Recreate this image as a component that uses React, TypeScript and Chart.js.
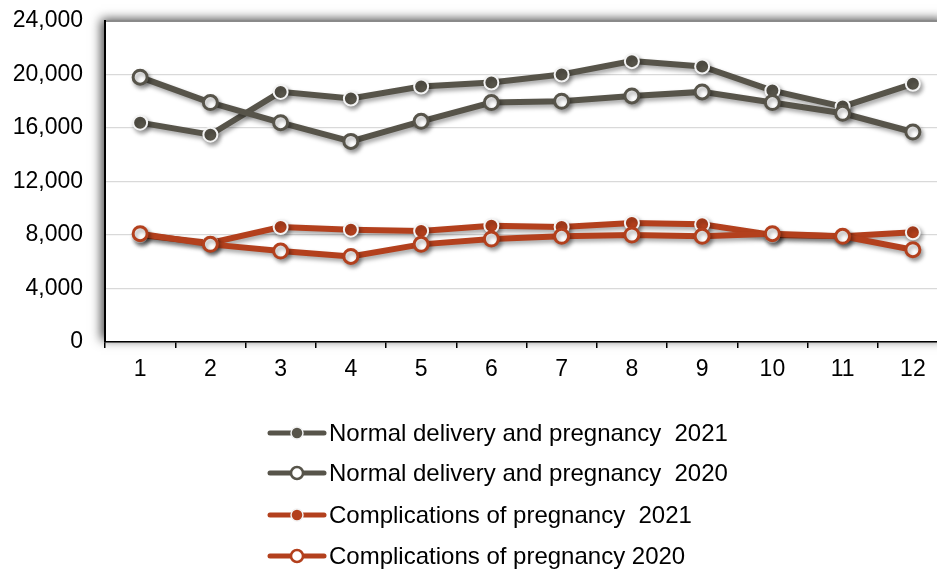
import React, { useEffect, useRef } from "react";
import { Chart, registerables } from "chart.js";

Chart.register(...registerables);

const months = ["1", "2", "3", "4", "5", "6", "7", "8", "9", "10", "11", "12"];
const normal2021 = [16400, 15500, 18700, 18200, 19100, 19400, 20000, 21000, 20600, 18800, 17600, 19300];
const normal2020 = [19800, 17900, 16400, 15000, 16500, 17900, 18000, 18400, 18700, 17900, 17100, 15700];
const comp2021 = [8000, 7400, 8600, 8400, 8300, 8700, 8600, 8900, 8800, 8000, 7900, 8200];
const comp2020 = [8100, 7300, 6800, 6400, 7300, 7700, 7900, 8000, 7900, 8100, 7900, 6900];

const GRAY = "#57544a";
const RED = "#b3401d";

const legendItems = [
  { label: "Normal delivery and pregnancy  2021", color: GRAY, filled: true },
  { label: "Normal delivery and pregnancy  2020", color: GRAY, filled: false },
  { label: "Complications of pregnancy  2021", color: RED, filled: true },
  { label: "Complications of pregnancy 2020", color: RED, filled: false },
];

const FONT = "'Liberation Sans', Arial, sans-serif";

export default function App() {
  const ref = useRef<HTMLCanvasElement | null>(null);

  useEffect(() => {
    if (!ref.current) return;

    const areaShadow = {
      id: "areaShadow",
      beforeDraw(chart: any) {
        const { ctx, chartArea } = chart;
        ctx.save();
        ctx.shadowColor = "rgba(0,0,0,0.7)";
        ctx.shadowBlur = 10;
        ctx.shadowOffsetX = -4;
        ctx.shadowOffsetY = -2;
        ctx.fillStyle = "#ffffff";
        ctx.fillRect(chartArea.left, chartArea.top, chartArea.right - chartArea.left, chartArea.bottom - chartArea.top);
        ctx.restore();
      },
    };

    const lineShadow = {
      id: "lineShadow",
      beforeDatasetDraw(chart: any) {
        const ctx = chart.ctx;
        ctx.save();
        ctx.shadowColor = "rgba(0,0,0,0.35)";
        ctx.shadowBlur = 4;
        ctx.shadowOffsetX = 2;
        ctx.shadowOffsetY = 3;
      },
      afterDatasetDraw(chart: any) {
        chart.ctx.restore();
      },
    };

    const customLegend = {
      id: "customLegend",
      afterDraw(chart: any) {
        const ctx = chart.ctx;
        const ys = [433, 473, 515, 556];
        ctx.save();
        legendItems.forEach((it, i) => {
          const y = ys[i];
          ctx.strokeStyle = it.color;
          ctx.lineWidth = 5;
          ctx.lineCap = "round";
          ctx.beginPath();
          ctx.moveTo(270, y);
          ctx.lineTo(324, y);
          ctx.stroke();
          ctx.beginPath();
          ctx.arc(297, y, 6, 0, Math.PI * 2);
          if (it.filled) {
            ctx.fillStyle = it.color;
            ctx.fill();
            ctx.lineWidth = 1.5;
            ctx.strokeStyle = "#f2f2f2";
            ctx.stroke();
          } else {
            ctx.fillStyle = "#ffffff";
            ctx.fill();
            ctx.lineWidth = 2.5;
            ctx.strokeStyle = it.color;
            ctx.stroke();
          }
          ctx.fillStyle = "#000000";
          ctx.font = `24px ${FONT}`;
          ctx.textAlign = "left";
          ctx.textBaseline = "middle";
          ctx.fillText(it.label, 329, y + 1);
        });
        ctx.restore();
      },
    };

    const filledDs = (label: string, data: number[], color: string) => ({
      label,
      data,
      borderColor: color,
      backgroundColor: color,
      borderWidth: 6,
      pointRadius: 7,
      pointBorderWidth: 2,
      pointBackgroundColor: color,
      pointBorderColor: "#f4f4f4",
      tension: 0,
    });
    const openDs = (label: string, data: number[], color: string) => ({
      label,
      data,
      borderColor: color,
      backgroundColor: color,
      borderWidth: 6,
      pointRadius: 7,
      pointBorderWidth: 3,
      pointBackgroundColor: "#ffffff",
      pointBorderColor: color,
      tension: 0,
    });

    const chart = new Chart(ref.current, {
      type: "line",
      data: {
        labels: months,
        datasets: [
          openDs(legendItems[1].label, normal2020, GRAY),
          filledDs(legendItems[0].label, normal2021, GRAY),
          openDs(legendItems[3].label, comp2020, RED),
          filledDs(legendItems[2].label, comp2021, RED),
        ] as any,
      },
      options: {
        animation: false,
        responsive: false,
        devicePixelRatio: 1,
        layout: { padding: { left: 0, top: 21, right: 3, bottom: 182 } },
        plugins: {
          legend: { display: false },
          tooltip: { enabled: false },
        },
        scales: {
          x: {
            offset: true,
            grid: {
              offset: true,
              drawOnChartArea: false,
              drawTicks: true,
              tickLength: 6,
              color: "#000000",
              lineWidth: 1.5,
            },
            border: { color: "#000000", width: 1.5 },
            ticks: {
              color: "#000000",
              font: { size: 23, family: FONT },
              padding: 8,
              maxRotation: 0,
            },
            afterFit(scale: any) {
              scale.height = 50;
            },
          },
          y: {
            min: 0,
            max: 24000,
            grid: {
              drawTicks: false,
              color: (c: any) => (c.tick && c.tick.value === 24000 ? "#8a8a8a" : c.tick && c.tick.value === 0 ? "rgba(0,0,0,0)" : "#d9d9d9"),
              lineWidth: (c: any) => (c.tick && c.tick.value === 24000 ? 2 : 1.2),
            },
            border: { color: "#000000", width: 2 },
            ticks: {
              stepSize: 4000,
              color: "#000000",
              font: { size: 23, family: FONT },
              padding: 22,
              callback: (v: any) => Number(v).toLocaleString("en-US"),
            },
            afterFit(scale: any) {
              scale.width = 105;
              scale.paddingTop = 0;
              scale.paddingBottom = 0;
            },
          },
        },
      },
      plugins: [areaShadow, lineShadow, customLegend],
    });

    return () => chart.destroy();
  }, []);

  return (
    <div style={{ position: "fixed", left: 0, top: 0, width: 937, height: 574, overflow: "hidden", background: "#fff" }}>
      <canvas ref={ref} width={958} height={574} style={{ display: "block", width: 958, height: 574 }} />
    </div>
  );
}
